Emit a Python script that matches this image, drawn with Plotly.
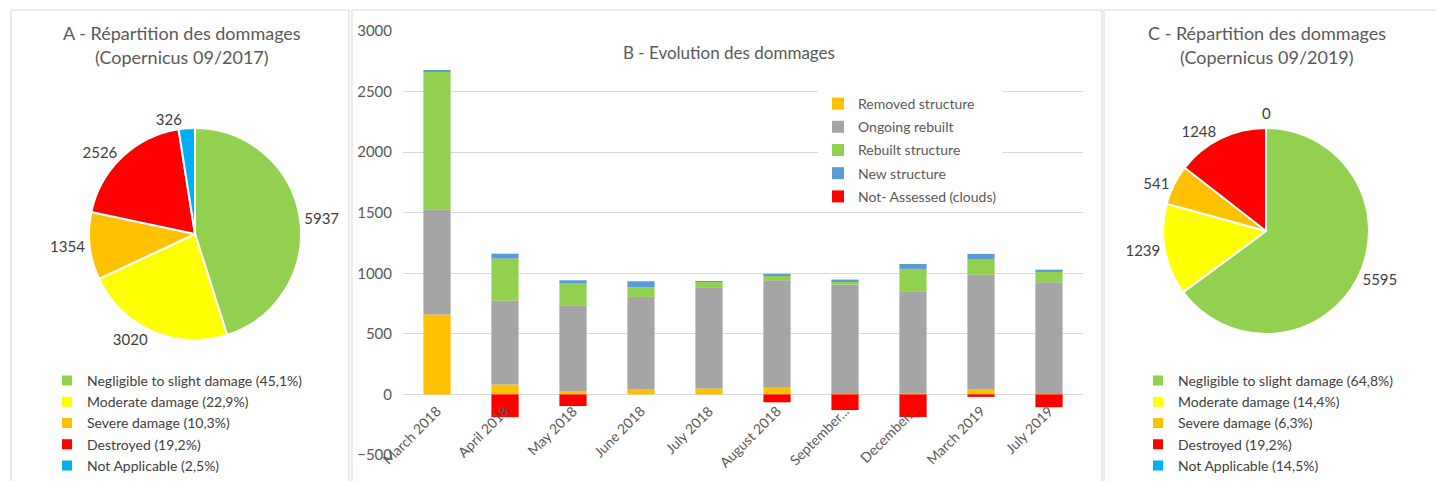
import plotly.graph_objects as go

# ---- Panel A : damage breakdown, Copernicus 09/2017 ----
pie_a_labels = [
    "Negligible to slight damage (45,1%)",
    "Moderate damage (22,9%)",
    "Severe damage (10,3%)",
    "Destroyed (19,2%)",
    "Not Applicable (2,5%)",
]
pie_a_values = [5937, 3020, 1354, 2526, 326]

# ---- Panel C : damage breakdown, Copernicus 09/2019 ----
pie_c_labels = [
    "Negligible to slight damage (64,8%)",
    "Moderate damage (14,4%)",
    "Severe damage (6,3%)",
    "Destroyed (19,2%)\u200b",  # zero-width space keeps it a separate legend entry
    "Not Applicable (14,5%)",
]
pie_c_values = [5595, 1239, 541, 1248, 0]

pie_colors = ["#92D050", "#FFFF00", "#FFC000", "#FF0000", "#00B0F0"]

# ---- Panel B : evolution of damages ----
months = ["March 2018", "April 2018", "May 2018", "June 2018", "July 2018",
          "August 2018", "September...", "December...", "March 2019", "July 2019"]
removed = [660, 82, 25, 41, 49, 55, 5, 10, 41, 5]
ongoing = [865, 693, 711, 764, 836, 887, 902, 842, 948, 921]
rebuilt = [1140, 346, 190, 80, 44, 39, 27, 184, 124, 85]
new_structure = [10, 41, 16, 49, 5, 14, 14, 41, 47, 19]
not_assessed = [0, -187, -96, 0, 0, -65, -129, -187, -20, -105]

bar_series = [
    ("Removed structure", removed, "#FFC000"),
    ("Ongoing rebuilt", ongoing, "#A5A5A5"),
    ("Rebuilt structure", rebuilt, "#92D050"),
    ("New structure", new_structure, "#5B9BD5"),
    ("Not- Assessed (clouds)", not_assessed, "#FF0000"),
]

W, H = 1436, 481
FONT = "Lato, 'Open Sans', sans-serif"
TXT = "#595959"
DARK = "#404040"


def px(x):
    return x / W


def py(y):
    return 1 - y / H


fig = go.Figure()

for name, vals, col in bar_series:
    fig.add_trace(go.Bar(
        x=months, y=vals, name=name, marker_color=col, marker_line_width=0,
        legend="legend", legendgroup=name,
    ))

fig.add_trace(go.Pie(
    labels=pie_a_labels, values=pie_a_values, sort=False, direction="clockwise",
    marker=dict(colors=pie_colors, line=dict(color="white", width=2)),
    textinfo="value", textposition="outside",
    textfont=dict(size=15, color=DARK, family=FONT),
    domain=dict(x=[px(89), px(301)], y=[py(340), py(128)]),
    legend="legend2", showlegend=True,
))

# empty slices get their value written above the pie instead of a leader line
pie_c_textpos = ["outside" if v > 0 else "none" for v in pie_c_values]
pie_c_dom_x = [px(1163), px(1369)]
pie_c_dom_y = [py(334), py(128)]
fig.add_trace(go.Pie(
    labels=pie_c_labels, values=pie_c_values, sort=False, direction="clockwise",
    marker=dict(colors=pie_colors, line=dict(color="white", width=2)),
    textinfo="value", textposition=pie_c_textpos,
    textfont=dict(size=15, color=DARK, family=FONT),
    domain=dict(x=pie_c_dom_x, y=pie_c_dom_y),
    legend="legend3", showlegend=True,
))
for v in pie_c_values:
    if v == 0:
        fig.add_annotation(
            text=str(v), x=sum(pie_c_dom_x) / 2, y=pie_c_dom_y[1],
            xref="paper", yref="paper", showarrow=False,
            xanchor="center", yanchor="bottom", yshift=4,
            font=dict(size=15, color=DARK, family=FONT),
        )

y_bottom, y_top = -500, 3000
dom_y = [py(455), py(31)]
zero_pos = dom_y[0] + (0 - y_bottom) / (y_top - y_bottom) * (dom_y[1] - dom_y[0])

fig.update_layout(
    width=W, height=H,
    margin=dict(l=0, r=0, t=0, b=0, autoexpand=False),
    paper_bgcolor="white", plot_bgcolor="white",
    font=dict(family=FONT, color=TXT, size=13),
    barmode="relative", bargap=0.6,
    xaxis=dict(
        domain=[px(403), px(1083)], anchor="free", position=zero_pos,
        tickangle=-45, showgrid=False, showline=False, ticks="",
        tickfont=dict(size=14, color=TXT), fixedrange=True,
        ticklabelstandoff=5,
    ),
    yaxis=dict(
        domain=dom_y, range=[y_bottom, y_top], dtick=500, tick0=0,
        showgrid=True, gridcolor="#D9D9D9", gridwidth=1,
        zeroline=True, zerolinecolor="#D9D9D9", zerolinewidth=1,
        tickfont=dict(size=15, color=TXT), ticks="", ticklabelstandoff=10,
    ),
    legend=dict(
        x=px(818), y=py(88), xanchor="left", yanchor="top",
        traceorder="grouped", tracegroupgap=2, bgcolor="white",
        font=dict(size=14, color=TXT, family=FONT), itemwidth=30,
    ),
    legend2=dict(
        x=px(47), y=0.0, xanchor="left", yanchor="bottom",
        font=dict(size=14, color=DARK, family=FONT), itemwidth=30,
        bgcolor="rgba(0,0,0,0)",
    ),
    legend3=dict(
        x=px(1138), y=0.0, xanchor="left", yanchor="bottom",
        font=dict(size=14, color=DARK, family=FONT), itemwidth=30,
        bgcolor="rgba(0,0,0,0)",
    ),
    showlegend=True,
)

# Panel titles
titles = [
    (182, 33, "A - Répartition des dommages", 18),
    (182, 57, "(Copernicus 09/2017)", 18),
    (729, 53, "B - Evolution des dommages", 17),
    (1267, 33, "C - Répartition des dommages", 18),
    (1267, 57, "(Copernicus 09/2019)", 18),
]
for x, y, t, s in titles:
    fig.add_annotation(
        text=t, x=px(x), y=py(y), xref="paper", yref="paper",
        showarrow=False, xanchor="center", yanchor="middle",
        font=dict(size=s, color=TXT, family=FONT),
    )

# Panel frames
frames = [(11, 10, 349, 485), (352, 10, 1102, 485), (1104, 10, 1440, 485)]
for x0, y0, x1, y1 in frames:
    fig.add_shape(
        type="rect", xref="paper", yref="paper",
        x0=px(x0), x1=px(x1), y0=py(y1), y1=py(y0),
        line=dict(color="#D9D9D9", width=1), fillcolor="rgba(0,0,0,0)",
        layer="below",
    )

fig.write_html("out.html")
